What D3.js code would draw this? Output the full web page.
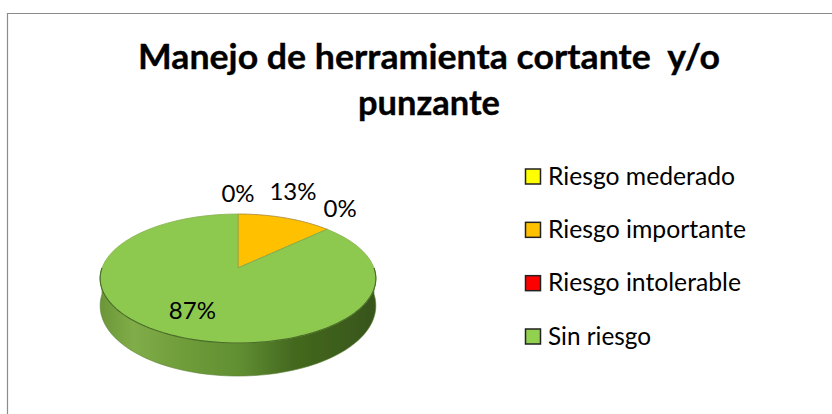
<!DOCTYPE html>
<html><head><meta charset="utf-8">
<script src="https://cdn.jsdelivr.net/npm/d3@7"></script>
<style>html,body{margin:0;padding:0;background:#fff}svg{display:block}text{font-family:Lato,"Open Sans",sans-serif;fill:#000}</style>
</head><body><svg id="c" width="832" height="414"></svg>
<script>
const categories = ["Riesgo mederado","Riesgo importante","Riesgo intolerable","Sin riesgo"];
const values = [0,13,0,87];
const colors = ["#FFFF00","#FFC000","#FF0000","#92D050"];
const titleLines = ["Manejo de herramienta cortante  y/o","punzante"];

const svg = d3.select("#c");
// frame
svg.append("path").attr("d","M7.5 414V13.5H832").attr("fill","none").attr("stroke","#8c8c8c").attr("stroke-width",1.2);

// title
const titleW=[582,142];
titleLines.forEach((t,i)=>svg.append("text").text(t).attr("x",429).attr("y",[69,115][i])
  .attr("text-anchor","middle").attr("font-size",35).attr("font-weight",700)
  .attr("stroke","#000").attr("stroke-width",0.35)
  .attr("textLength",titleW[i]).attr("lengthAdjust","spacingAndGlyphs").style("white-space","pre"));

// perspective projection of the pie disc
const cx=238, cy=268, k=0.163, a=62.8, b=136;
const proj=(ang,r=1)=>{const u=r*Math.sin(ang),v=r*Math.cos(ang),w=1+k*v;return [cx+b*u/w,cy-a*v/w];};
const arcs=d3.pie().sort(null).value(d=>d)(values);
const line=d3.line();
const sampled=(s,e)=>d3.range(0,61).map(i=>proj(s+(e-s)*i/60));
const wedge=(d)=>line([[cx,cy],...sampled(d.startAngle,d.endAngle)])+"Z";

const defs=svg.append("defs");
const g=defs.append("linearGradient").attr("id","side");
[[0,"#6b9638"],[0.12,"#80ad48"],[0.3,"#6f9d3a"],[0.5,"#618f33"],[0.7,"#44691f"],[1,"#37551a"]]
 .forEach(([o,c])=>g.append("stop").attr("offset",o).attr("stop-color",c));
defs.append("filter").attr("id","soft").append("feGaussianBlur").attr("stdDeviation",0.5);

const pie=svg.append("g").attr("filter","url(#soft)");
// side wall: outer rim extruded downward
const rimDepth=ang=>{const p=proj(ang);const v=Math.cos(ang);return [p[0],p[1]+(26-7*v)];};
const lower=d3.range(Math.PI/2,3*Math.PI/2+1e-6,Math.PI/90);
pie.append("path")
 .attr("d",line([...lower.map(t=>proj(t)),...lower.slice().reverse().map(rimDepth)])+"Z")
 .attr("fill","url(#side)").attr("stroke","#5d7f37").attr("stroke-width",0.6);
// top face
pie.selectAll("path.s").data(arcs).join("path").attr("class","s")
 .attr("d",wedge).attr("fill",(d,i)=>i==3?"#8DC94F":colors[i])
 .attr("stroke",(d,i)=>i==1?"#a5843a":"#86b04e").attr("stroke-width",0.8).attr("stroke-linejoin","round");
// dark edge along the front of the top face
pie.append("path").attr("d",line(lower.map(t=>proj(t)))).attr("fill","none")
 .attr("stroke","#4a6e28").attr("stroke-width",1.1);

// value labels
const offs=[[0,-12],[8,-18],[13,-12]];
arcs.forEach((d,i)=>{
  const pct=Math.round(d.data)+"%";
  const mid=(d.startAngle+d.endAngle)/2;
  const p=i<3?proj(mid):proj(mid,0.75);
  const o=i<3?offs[i]:[0,2];
  svg.append("text").text(pct).attr("x",p[0]+o[0]).attr("y",p[1]+o[1])
    .attr("text-anchor","middle").attr("font-size",24);
});

// legend
const legendY=d3.scalePoint().domain(categories).range([176.5,336.5]);
const legendW=[187,198,193,103];
categories.forEach((c,i)=>{
  const y=legendY(c);
  svg.append("rect").attr("x",525.5).attr("y",y-7.5).attr("width",15).attr("height",15)
    .attr("fill",colors[i]).attr("stroke","#222").attr("stroke-width",1.5);
  svg.append("text").text(c).attr("x",548).attr("y",y+8).attr("font-size",25)
    .attr("textLength",legendW[i]).attr("lengthAdjust","spacingAndGlyphs");
});
</script></body></html>
